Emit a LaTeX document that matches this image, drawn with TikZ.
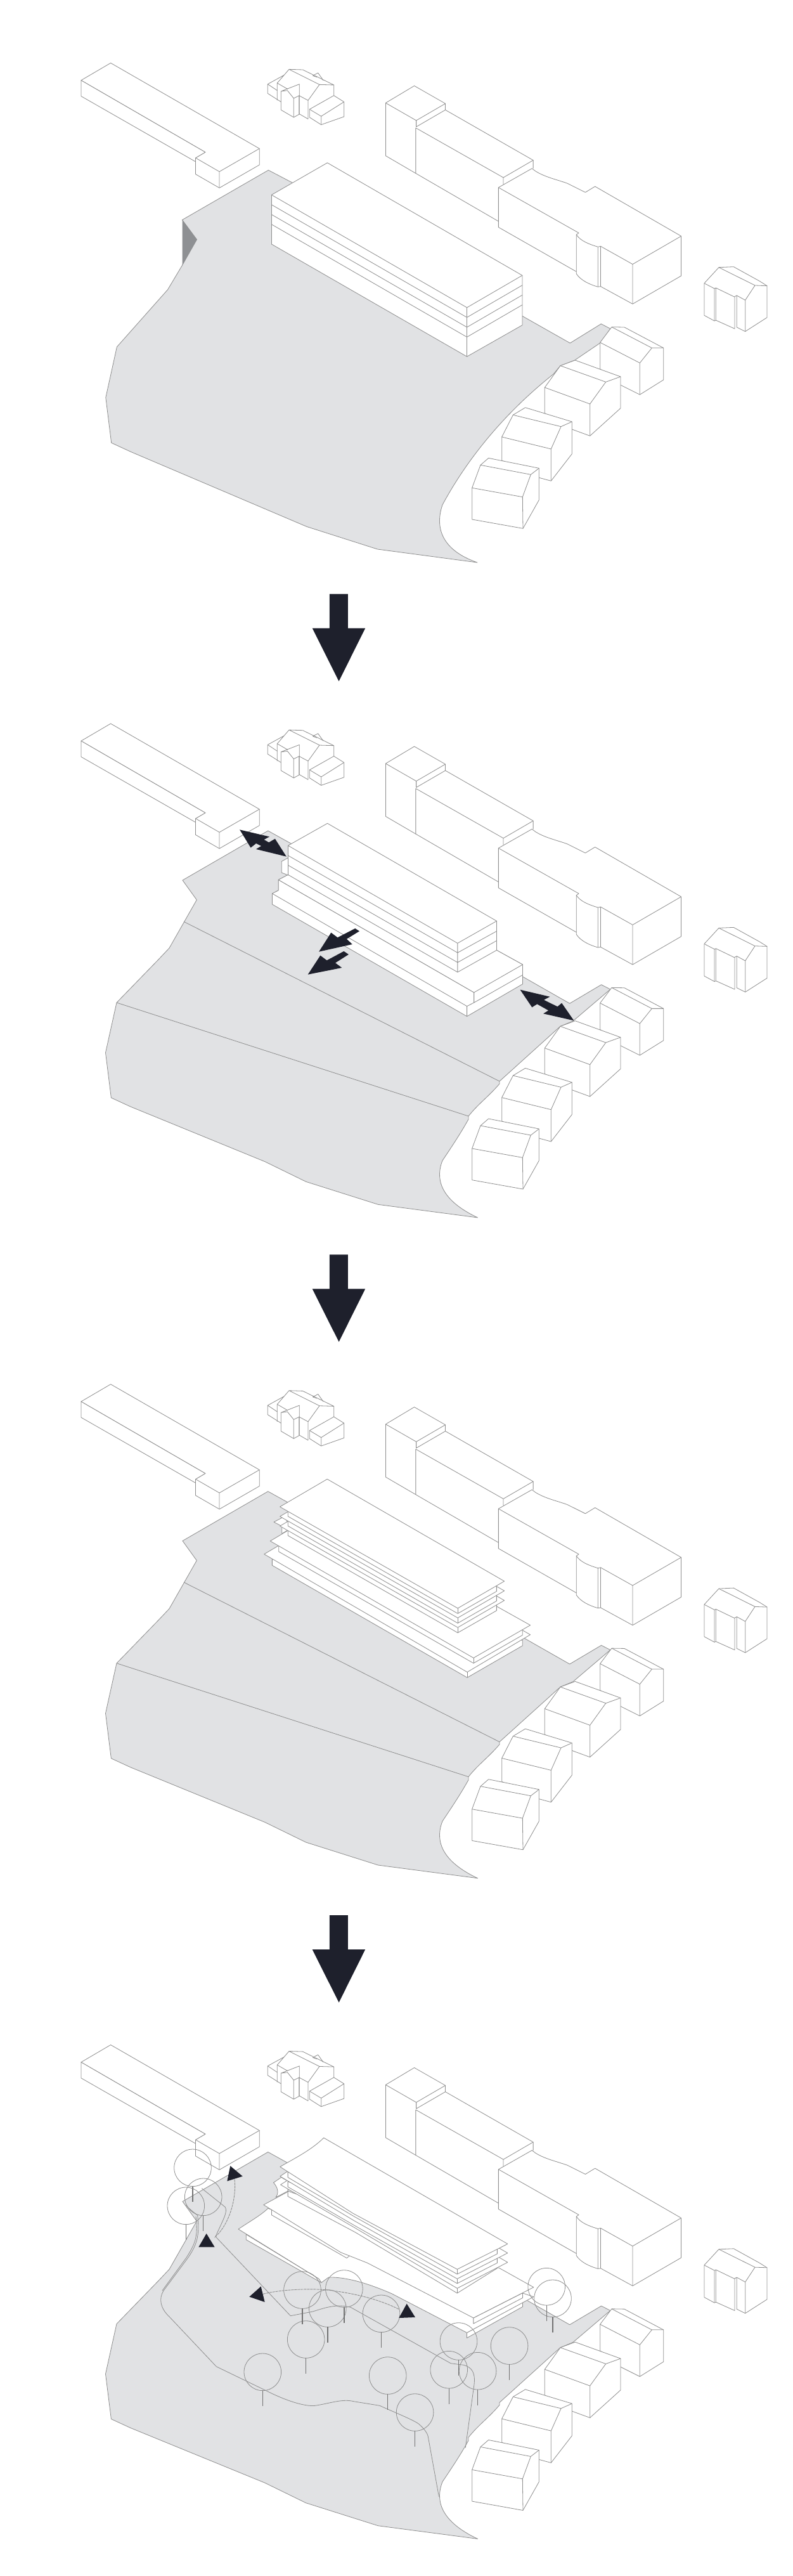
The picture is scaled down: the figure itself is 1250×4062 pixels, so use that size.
\documentclass[tikz,border=0pt]{standalone}
\definecolor{ln}{HTML}{8E8E8E}
\definecolor{land}{HTML}{E1E2E4}
\definecolor{cliff}{HTML}{8E9093}
\definecolor{ink}{HTML}{1E202C}
\tikzset{
  z1/.style={shift={(100,80)},xscale=.3827,yscale=.33333},
  z2/.style={shift={(600,120)},xscale=.3827,yscale=.33333},
  z4/.style={shift={(250,1250)},xscale=.44643,yscale=.33333},
  z6/.style={shift={(300,2300)},xscale=.3827,yscale=.33333},
  z7/.style={shift={(230,3330)},xscale=.33333,yscale=.33333},
  z8/.style={shift={(350,3350)},xscale=.3827,yscale=.33333},
  z10/.style={shift={(380,90)},xscale=.33333,yscale=.33333},
  z11/.style={shift={(1080,400)},xscale=.33333,yscale=.33333},
  z12/.style={shift={(700,500)},xscale=.33333,yscale=.33333},
  wl/.style={draw=ln,line width=.4pt,line join=round},
  bx/.style={wl,fill=white},
  gl/.style={draw=ln,line width=.4pt,line join=round,fill=land},
  ar/.style={fill=ink},
  dsh/.style={draw=ln,line width=.45pt,dash pattern=on 2pt off .5pt},
  trk/.style={draw=ln!80!black,line width=.7pt}
}
\newcommand{\Context}{%
  % left block
  \begin{scope}[z1]
    \path[bx] (195,58)--(808,463)--(808,540)--(643,649)--(545,584)--(545,507)--(585,480)--(73,140)--cycle;
    \path[bx] (73,140)--(73,215)--(545,525)--(545,507)--(585,480)--cycle;
    \path[wl] (545,507)--(643,572)--(808,463) (643,572)--(643,649);
  \end{scope}
  % small house
  \begin{scope}[z10]
    \path[wl] (228,58)--(293,60)--(440,132)--(440,185) (228,58)--(372,130)--(440,132) (372,130)--(318,205)--(318,293);
    \path[wl] (340,88)--(365,75)--(390,110) (340,88)--(360,95);
    \path[wl] (172,123)--(228,58) (127,128)--(205,85) (172,123)--(172,205);
    \path[wl] (127,128)--(127,172)--(190,212) (127,128)--(172,158);
    \path[wl] (172,123)--(222,152) (275,182)--(318,205) (275,182)--(275,268)--(318,293);
    \path[wl] (190,162)--(277,128)--(277,182)--(250,195)--(250,285)--(190,250)--(190,162)--(220,158)--(250,195);
    \path[wl] (277,182)--(277,270)--(250,285);
    \path[bx] (325,247)--(440,182)--(488,212)--(488,282)--(380,320)--(325,285)--cycle;
    \path[wl] (325,247)--(380,280)--(488,212) (380,280)--(380,320);
  \end{scope}
  % long building on the right
  \begin{scope}[z2]
    \path[wl] (140,46)--(22,127)--(148,210)--(268,130)--cycle (22,127)--(22,377)--(146,460);
    \path[wl] (268,130)--(268,160) (148,210)--(148,240)--(268,160)--(630,398)--(630,437);
    \path[wl] (146,245)--(507,480)--(630,398) (146,245)--(146,460)--(487,687) (507,480)--(507,512);
    \path[wl] (487,527)--(625,437)--(640,450) .. controls (680,478) and (720,487) .. (770,507) -- (845,550)--(885,522)--(1240,757)--(1240,945)--(1040,1078)--(908,995);
    \path[wl] (487,527)--(818,742)--(808,750) .. controls (825,780) and (860,795) .. (897,808)--(908,805)--(1040,890)--(1240,757);
    \path[wl] (1040,890)--(1040,1078) (908,805)--(908,995)--(897,997) (897,808)--(897,997);
    \path[wl] (808,750)--(808,935) .. controls (825,965) and (860,985) .. (897,997);
    \path[wl] (487,527)--(487,715)--(808,925);
  \end{scope}
  % right house
  \begin{scope}[z11]
    \path[wl] (93,140)--(162,65)--(232,62)--(355,130)--(390,152)--(390,302)--(287,368)--(247,348)--(247,198)--(237,203)--(237,355)--(148,315)--(141,318)--(93,292)--cycle;
    \path[wl] (162,65)--(333,150)--(390,152) (333,150)--(287,220)--(247,198) (287,220)--(287,368);
    \path[wl] (93,140)--(141,165)--(141,318) (141,165)--(148,162)--(237,205) (148,162)--(148,315);
  \end{scope}
  % row of houses
  \begin{scope}[z12]
    \path[bx] (740,120)--(795,47)--(855,48)--(1040,146)--(1040,297)--(928,367)--(838,322)--(740,245)--cycle;
    \path[wl] (740,120)--(928,217)--(985,146)--(1040,146) (795,47)--(985,146) (928,217)--(928,367);
    \path[bx] (478,333)--(552,230)--(622,204)--(837,282)--(837,431)--(692,562)--(610,532)--(478,455)--cycle;
    \path[wl] (478,333)--(692,411)--(767,307)--(837,282) (552,230)--(767,307) (692,411)--(692,562);
    \path[bx] (275,567)--(328,463)--(386,428)--(607,495)--(607,647)--(508,775)--(452,760)--(275,678)--cycle;
    \path[wl] (275,567)--(508,624)--(555,518)--(607,495) (328,463)--(555,518) (508,624)--(508,775);
    \path[bx] (134,808)--(174,700)--(212,667)--(451,715)--(451,865)--(375,1000)--(134,957)--cycle;
    \path[wl] (134,808)--(373,851)--(412,745)--(451,715) (174,700)--(412,745) (373,851)--(375,1000);
  \end{scope}
}
% land shared by panels 2-4 (coordinates of panel 2)
\newcommand{\LandTwo}{%
  \path[gl] (422.8,1310)--(457.6,1329.3)--(824.5,1540)--(898.7,1582.3)--(948.6,1552.7)--(962.8,1560)--(904,1610)--(884,1618.3)--(788,1705)--(788,1709)
    .. controls (770,1730) and (755,1740) .. (739,1760)--(739,1765)
    .. controls (725,1790) and (710,1812) .. (698,1830)
    .. controls (688,1855) and (690,1890) .. (753.6,1920)
    --(596.4,1899.3)--(482.6,1863.3)--(417.9,1831.7)--(205.8,1745)--(175.4,1731)--(166.5,1660)--(184,1581)--(250,1513)--(267,1495)--(310.3,1419)--(288,1388)--cycle;
}
\newcommand{\Folds}{%
  \path[wl] (290,1453.3)--(788,1705) (184,1581)--(739,1760);
}
\newcommand{\BigArrow}[1]{%
  \path[ar,shift={(0,#1)}] (519.9,936.6)--(548.9,936.6)--(548.9,990.6)--(576.2,990.6)--(534.6,1074.2)--(492.7,990.6)--(519.9,990.6)--cycle;
}
\newcommand{\TreeAt}[2]{%
  \path[wl] (#1,#2) circle[radius=29.3];
  \path[trk] (#1,#2+29.3)--(#1,#2+54);
}
\begin{document}
\begin{tikzpicture}[x=.5pt,y=-.5pt]
\path[fill=white,use as bounding box] (0,0) rectangle (1250,4062);

% ---------- panel 1
\path[gl] (423.4,268.3)--(459.7,287.3)--(823.9,498.3)--(899.3,541)--(948.3,510.7)--(962.8,518.3)--(948,540)--(906.7,568)--(884,576.7)--(873,590)
  .. controls (820,632) and (750,700) .. (698,796)
  .. controls (688,825) and (690,865) .. (753,887)
  --(595.4,866)--(483.8,830.4)--(207,712.7)--(175.7,698.3)--(166.8,626.9)--(184.4,547)--(264.6,456.7)--(287.5,418.3)--(310.5,377.7)--(287.5,346.7)--cycle;
\path[fill=cliff] (287.5,346.7)--(310.5,377.7)--(287.5,418.3)--cycle;
\Context
\path[bx] (516.4,256.7)--(428.4,307.3)--(428.4,385)--(736.6,562.3)--(823.9,512.7)--(823.9,434.3)--cycle;
\foreach \d in {0,15.5,31,46.5} {\path[wl] (428.4,307.3+\d)--(736.6,485+\d)--(823.9,434.3+\d);}
\path[wl] (736.6,485)--(736.6,562.3);

\BigArrow{0}

% ---------- panel 2
\LandTwo
\Folds
\begin{scope}[shift={(0,1041.7)}]\Context\end{scope}
\begin{scope}[z4]
  \path[bx] (402,477)--(402,528)--(1090,1058)--(1287,905)--(1287,813)--(1195,745)--(458,388)--(424,412)--(424,462)--cycle;
  \path[bx] (424,412)--(1115,945)--(1115,993)--(1090,1010)--(402,477)--(424,462)--cycle;
  \path[bx] (424,412)--(458,388)--(1195,745)--(1287,813)--(1115,945)--cycle;
  \path[wl] (1115,993)--(1287,862) (1090,1010)--(1090,1058) (1115,945)--(1115,993);
  \path[bx] (435,325)--(458,308)--(458,390)--(435,378)--cycle;
  \path[bx] (597,145)--(458,250)--(458,388)--(1057,849)--(1195,745)--(1195,607)--cycle;
  \path[wl] (458,250)--(1057,712)--(1195,607) (458,297)--(1057,757)--(1195,655) (458,343)--(1057,803)--(1195,700) (1057,712)--(1057,849);
  \path[ar] (287,175)--(392,208)--(373,222)--(390,235)--(412,218)--(452,302)--(345,267)--(363,252)--(345,240)--(326,260)--cycle;
  \path[ar] (1278,932)--(1383,965)--(1362,980)--(1410,1012)--(1425,995)--(1468,1078)--(1360,1045)--(1378,1030)--(1338,1000)--(1320,1015)--cycle;
  \path[ar] (695,642)--(710,655)--(665,692)--(685,717)--(567,752)--(610,662)--(633,685)--cycle;
  \path[ar] (655,750)--(672,765)--(625,805)--(648,828)--(528,860)--(572,770)--(595,793)--cycle;
\end{scope}

\BigArrow{1041.7}

% ---------- panel 3
\begin{scope}[shift={(0,1041.7)}]\LandTwo\Folds\end{scope}
\begin{scope}[shift={(0,2083.4)}]\Context\end{scope}
\begin{scope}[z6]
  \path[bx] (338,475)--(338,505)--(1142,1036)--(1370,885)--(1370,860)--cycle;
  \path[bx] (305,452)--(370,408)--(1370,812)--(1402,833)--(1142,1010)--cycle;
  \path[wl] (1142,1010)--(1142,1036);
  \path[bx] (365,412)--(365,440)--(1168,968)--(1370,835)--(1370,810)--cycle;
  \path[bx] (330,390)--(403,340)--(1265,700)--(1402,788)--(1168,943)--cycle;
  \path[wl] (1168,943)--(1168,968);
  \path[bx] (345,300)--(395,270)--(403,338)--(378,355)--(378,320)--cycle;
  \foreach \d in {91,45.5,0} {
    \path[bx] (403,248+\d)--(403,273+\d)--(1103,733+\d)--(1263,628+\d)--(1263,603+\d)--cycle;
    \path[bx] (370,228+\d)--(565,97+\d)--(1295,580+\d)--(1103,708+\d)--cycle;
    \path[wl] (1103,708+\d)--(1103,733+\d);
  }
\end{scope}

\BigArrow{2083.4}

% ---------- panel 4
\begin{scope}[shift={(0,2083.4)}]\LandTwo\end{scope}
\begin{scope}[shift={(0,3125.1)}]\Context\end{scope}
\begin{scope}[z8]
  \path[bx] (100,520)--(100,545)--(405,745)--(410,748)--(400,730)--cycle;
  \path[bx] (1010,985)--(1010,1010)--(1240,862)--(1240,840)--cycle;
  \path[bx] (68,495) .. controls (120,455) and (160,430) .. (190,397)--(1285,815)--(1010,985)--(700,800) .. controls (620,760) and (520,720) .. (440,723)--(410,748)--(400,730)--cycle;
  \path[bx] (205,400)--(205,428)--(515,632)--(527,620)--cycle;
  \path[bx] (1037,915)--(1037,942)--(1240,820)--(1240,797)--cycle;
  \path[bx] (172,380)--(272,318)--(1145,680)--(1285,770)--(1037,915)--(600,655)--(490,605)--cycle;
  \path[bx] (213,275)--(245,250)--(272,268)--(272,315)--(222,345) .. controls (235,325) and (232,300) .. (213,275)--cycle;
  \path[bx] (272,315)--(272,340)--(550,510)--(970,798)--(1135,680)--(1135,655)--cycle;
  \path[bx] (242,285)--(420,153)--(1178,652)--(970,775)--(550,490)--cycle;
  \path[bx] (272,270)--(272,295)--(550,480)--(970,752)--(1135,655)--(1135,632)--cycle;
  \path[bx] (240,245)--(420,108)--(1178,608)--(970,730)--(545,455)--cycle;
  \path[bx] (272,225)--(272,250)--(545,435)--(970,708)--(1135,612)--(1135,590)--cycle;
  \path[bx] (240,200) .. controls (300,160) and (370,120) .. (420,63)--(1178,565)--(970,685)--(540,420)--cycle;
  \path[wl] (970,685)--(970,708) (970,730)--(970,752) (970,775)--(970,798);
\end{scope}
% paths on the ground
\path[wl] (318.3,3450.7)--(355,3480) .. controls (360,3487) and (352,3500) .. (340,3526.7)--(458.3,3651.7)--(493.3,3645) .. controls (510,3640) and (530,3632) .. (553.3,3638.3)--(711.2,3726.7)--(731.6,3729.3) .. controls (745,3733) and (750,3742) .. (748,3760)--(734.2,3860);
\path[wl] (293.3,3476.7) .. controls (300,3485) and (308,3490) .. (311.7,3493.3) .. controls (314,3520) and (314,3535) .. (296.7,3560)--(258,3612) .. controls (250,3625) and (253,3640) .. (267.3,3653.3)--(341.3,3731.7)--(420.4,3770) .. controls (450,3785) and (480,3795) .. (496.9,3793.3) .. controls (520,3790) and (540,3782) .. (558.2,3786.7)--(599,3793.3) .. controls (625,3805) and (650,3815) .. (660,3821.7) .. controls (670,3830) and (675,3838) .. (675.5,3843.3)--(692.4,3936.7);
\path[wl] (309,3495) .. controls (312,3525) and (310,3535) .. (294,3560)--(256,3612);
% trees
\foreach \tx/\ty in {414.3/3740.3,482.7/3689,516.8/3640,477/3611,542.9/3609,601.5/3648.3,611.7/3746,654.6/3804,708.2/3736.7,723.5/3692,753.6/3738.7,803.6/3699,872/3624.3,862.2/3605.7,304/3418.3,320.7/3464.3,293.3/3478.3} {\TreeAt{\tx}{\ty}}
% routes and triangles
\begin{scope}[z7]
  \path[dsh] (420,320) .. controls (430,400) and (400,530) .. (325,595);
  \path[dsh] (555,862) .. controls (640,840) and (780,835) .. (860,843) .. controls (1000,860) and (1110,890) .. (1200,935);
  \path[ar] (400,256)--(458,305)--(385,328)--cycle;
  \path[ar] (287,576)--(326,640)--(250,640)--cycle;
  \path[ar] (545,826)--(563,900)--(490,875)--cycle;
  \path[ar] (1235,908)--(1275,972)--(1198,975)--cycle;
\end{scope}
\end{tikzpicture}
\end{document}
